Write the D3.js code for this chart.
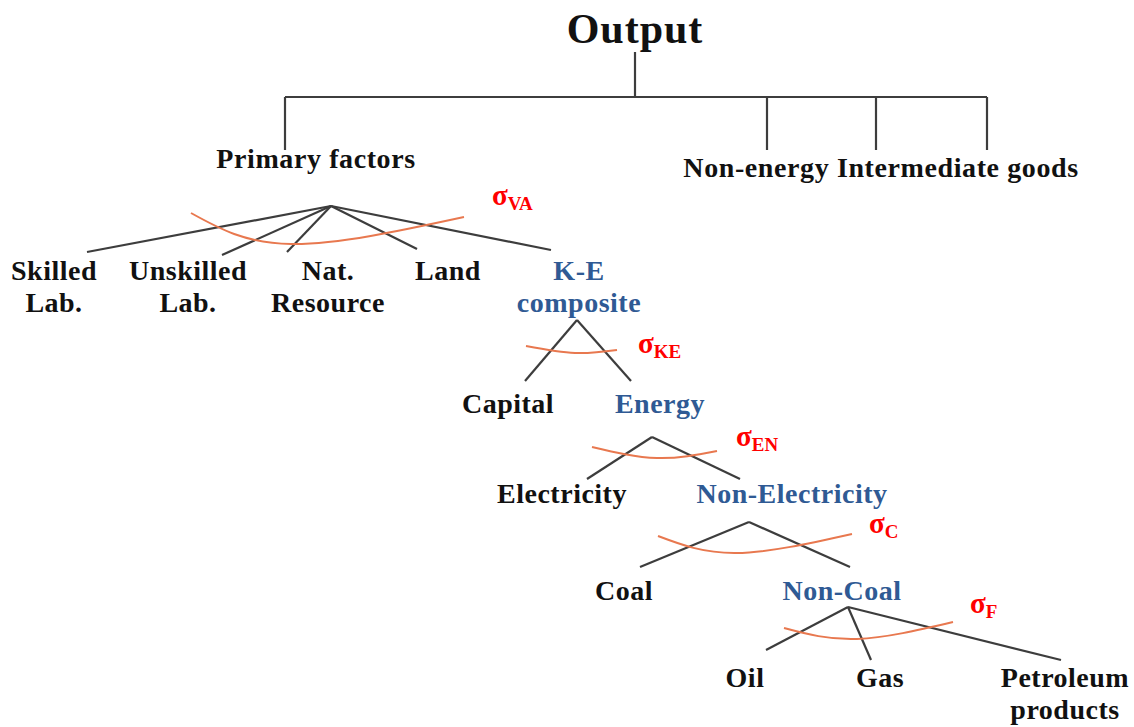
<!DOCTYPE html>
<html>
<head>
<meta charset="utf-8">
<script src="https://cdn.jsdelivr.net/npm/d3@7"></script>
<style>
  body { margin: 0; background: #fff; }
  svg { display: block; }
  text { font-family: "Liberation Serif", "Times New Roman", serif; font-weight: bold; }
</style>
</head>
<body>
<svg width="1134" height="727"></svg>
<script>
// labels of the nesting tree
let title = "Output";
let topNodes = ["Primary factors", "Non-energy Intermediate goods"];
let nestParents = ["Primary factors", "K-E composite", "Energy", "Non-Electricity", "Non-Coal"];
let nestSigmas = ["VA", "KE", "EN", "C", "F"];
let nestChildren = [
  [["Skilled", "Lab."], ["Unskilled", "Lab."], ["Nat.", "Resource"], ["Land"], ["K-E", "composite"]],
  [["Capital"], ["Energy"]],
  [["Electricity"], ["Non-Electricity"]],
  [["Coal"], ["Non-Coal"]],
  [["Oil"], ["Gas"], ["Petroleum", "products"]]
];
// which children are themselves nests (drawn blue)
let nestedChild = [4, 1, 1, 1, -1];

// layout, in picture units
let topDrops = [285, 767, 876, 987];
let topBarY = 97, topDropY = 150, titleY = 43, titleX = 635;
let topLabelX = [316, 881], topLabelY = [168, 177];
let apexX = [331, 577, 652, 749, 848];
let apexY = [206, 320, 437, 522, 607];
let endX = [[87, 222, 287, 417, 551], [525, 631], [587, 740], [640, 850], [766, 871, 1061]];
let endY = [[252, 255, 252, 249, 250], [381, 381], [479, 479], [567, 567], [650, 660, 660]];
let labelX = [[54, 188, 328, 448, 579], [508, 660], [562, 792], [624, 842], [745, 880, 1065]];
let labelY = [280, 413, 503, 600, 687];
let arcL = [[191, 213], [526, 346], [592, 447], [658, 536], [784, 628]];
let arcM = [[291, 244], [575, 353], [657, 458], [736, 553], [857, 639]];
let arcR = [[464, 217], [617, 350], [717, 451], [852, 534], [953, 622]];
let sigmaX = [492, 638, 736, 869, 970];
let sigmaY = [205, 353, 446, 533, 613];

let svg = d3.select("svg"),
    width = +svg.attr("width"),
    height = +svg.attr("height");

let x = d3.scaleLinear().domain([0, 1134]).range([0, width]);
let y = d3.scaleLinear().domain([0, 727]).range([0, height]);

let lineCol = "#3d3d3d", arcCol = "#e8784f", blue = "#2f5a94", ink = "#111";

let g = svg.append("g");

// top level
g.append("text")
  .attr("x", x(titleX)).attr("y", y(titleY))
  .attr("text-anchor", "middle")
  .attr("font-size", 42)
  .attr("letter-spacing", 1)
  .attr("fill", ink)
  .text(title);

g.append("line")
  .attr("x1", x(titleX)).attr("x2", x(titleX))
  .attr("y1", y(52)).attr("y2", y(topBarY))
  .attr("stroke", lineCol).attr("stroke-width", 2.2);

g.append("line")
  .attr("x1", x(d3.min(topDrops))).attr("x2", x(d3.max(topDrops)))
  .attr("y1", y(topBarY)).attr("y2", y(topBarY))
  .attr("stroke", lineCol).attr("stroke-width", 2.2);

g.selectAll(".drop")
  .data(topDrops)
  .enter().append("line")
    .attr("class", "drop")
    .attr("x1", d => x(d)).attr("x2", d => x(d))
    .attr("y1", y(topBarY)).attr("y2", y(topDropY))
    .attr("stroke", lineCol).attr("stroke-width", 2.2);

g.selectAll(".toplab")
  .data(topNodes)
  .enter().append("text")
    .attr("class", "toplab")
    .attr("x", (d, i) => x(topLabelX[i]))
    .attr("y", (d, i) => y(topLabelY[i]))
    .attr("text-anchor", "middle")
    .attr("font-size", 28)
    .attr("letter-spacing", 0.6)
    .attr("fill", ink)
    .text(d => d);

// nests
let curve = d3.line().x(d => x(d[0])).y(d => y(d[1])).curve(d3.curveNatural);

nestParents.forEach(function(p, n) {
  let ng = g.append("g").attr("class", "nest");

  // branches
  ng.selectAll("line")
    .data(nestChildren[n])
    .enter().append("line")
      .attr("x1", x(apexX[n])).attr("y1", y(apexY[n]))
      .attr("x2", (d, i) => x(endX[n][i]))
      .attr("y2", (d, i) => y(endY[n][i]))
      .attr("stroke", lineCol).attr("stroke-width", 2.2);

  // elasticity arc
  ng.append("path")
    .attr("d", curve([arcL[n], arcM[n], arcR[n]]))
    .attr("fill", "none")
    .attr("stroke", arcCol).attr("stroke-width", 2);

  let s = ng.append("text")
    .attr("x", x(sigmaX[n])).attr("y", y(sigmaY[n]))
    .attr("fill", "#ff0000")
    .attr("font-size", 29);
  s.append("tspan").text("σ");
  s.append("tspan").attr("dy", 5).attr("font-size", 19).text(nestSigmas[n]);

  // child labels
  let lab = ng.selectAll(".lab")
    .data(nestChildren[n])
    .enter().append("text")
      .attr("class", "lab")
      .attr("text-anchor", "middle")
      .attr("font-size", 28)
      .attr("letter-spacing", 0.5)
      .attr("fill", (d, i) => i === nestedChild[n] ? blue : ink);

  lab.selectAll("tspan")
    .data((d, i) => d.map(t => ({t: t, i: i})))
    .enter().append("tspan")
      .attr("x", d => x(labelX[n][d.i]))
      .attr("y", (d, k) => y(labelY[n] + k * 32))
      .text(d => d.t);
});
</script>
</body>
</html>
